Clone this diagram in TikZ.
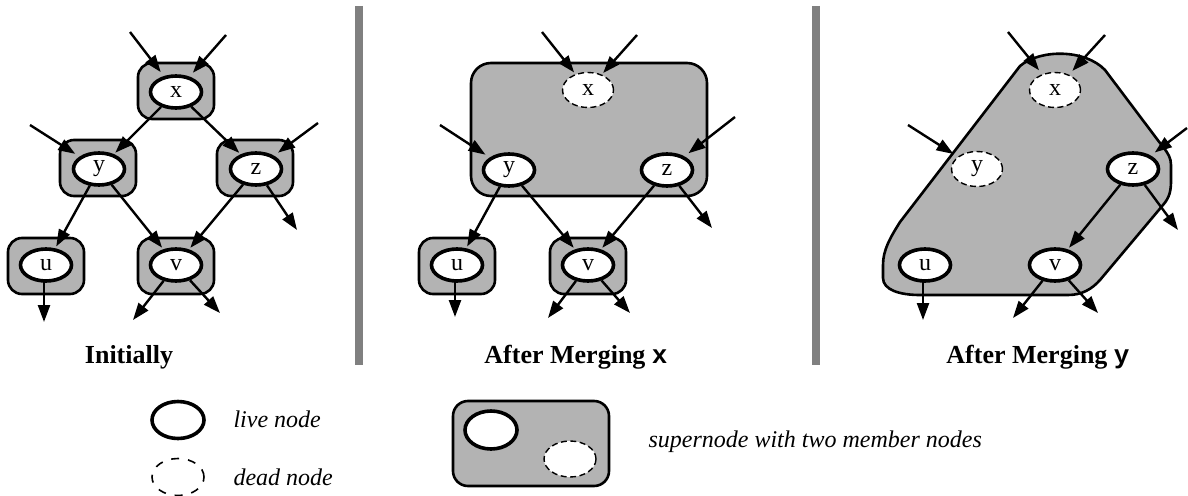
\documentclass[tikz,border=0pt]{standalone}
\usepackage{fontspec}
\setmainfont{Liberation Serif}
\setmonofont{Liberation Mono}
\usetikzlibrary{arrows.meta,shapes.geometric}
\definecolor{supgray}{HTML}{B3B3B3}
\definecolor{sepgray}{HTML}{808080}
\begin{document}
\begin{tikzpicture}[x=1pt,y=-1pt,
  live/.style={ellipse,draw,line width=3.6pt,fill=white,minimum width=51pt,minimum height=32pt,inner sep=0pt,font=\fontsize{24}{24}\selectfont},
  dead/.style={ellipse,draw,line width=1.4pt,dash pattern=on 6pt off 3.5pt,fill=white,minimum width=51pt,minimum height=35pt,inner sep=0pt,font=\fontsize{24}{24}\selectfont},
  supbox/.style={draw,line width=2.6pt,fill=supgray,rounded corners=14pt,minimum width=76pt,minimum height=56pt,inner sep=0pt},
  arr/.style={line width=2.4pt,-{Triangle[length=17pt,width=12pt]},shorten >=2pt},
  inarr/.style={arr,shorten >=5pt},
  sep/.style={draw=sepgray,line width=8pt},
  title/.style={anchor=base,font=\fontsize{26}{26}\selectfont\bfseries},
  legtext/.style={anchor=base west,font=\fontsize{24}{24}\selectfont\itshape}
]
\useasboundingbox (0,0) rectangle (1188,495);

% separators
\coordinate (s1a) at (359,6); \coordinate (s1b) at (359,365);
\coordinate (s2a) at (816,6); \coordinate (s2b) at (816,365);
\draw[sep] (s1a) -- (s1b);
\draw[sep] (s2a) -- (s2b);

% ---------- Panel 1 ----------
\node[supbox] (axb) at (176,91) {};
\node[supbox] (ayb) at (98,168) {};
\node[supbox] (azb) at (255,168) {};
\node[supbox] (aub) at (46,266) {};
\node[supbox] (avb) at (176,266) {};
\node[live] (ax) at (176,92) {x};
\node[live] (ay) at (99,169) {y};
\node[live] (az) at (256,169) {z};
\node[live] (au) at (46,265) {u};
\node[live] (av) at (176,265) {v};
\coordinate (axi1) at (130,32); \coordinate (axi2) at (226,35);
\coordinate (ayi) at (30,125); \coordinate (azi) at (318,123);
\coordinate (azo) at (297,230); \coordinate (auo) at (44,322);
\coordinate (avo1) at (133,320); \coordinate (avo2) at (220,313);
\draw[inarr] (axi1) -- (ax);
\draw[inarr] (axi2) -- (ax);
\draw[inarr] (ayi) -- (ay);
\draw[inarr] (azi) -- (az);
\draw[arr] (ax) -- (ay);
\draw[arr] (ax) -- (az);
\draw[arr] (ay) -- (au);
\draw[arr] (ay) -- (av);
\draw[arr] (az) -- (av);
\draw[arr,shorten >=0pt] (az) -- (azo);
\draw[arr,shorten >=0pt] (au.center) ++(-2,16) -- (auo);
\draw[arr,shorten >=0pt] (av) -- (avo1);
\draw[arr,shorten >=0pt] (av) -- (avo2);

% ---------- Panel 2 ----------
\node[draw,line width=2.6pt,fill=supgray,rounded corners=20pt,minimum width=236pt,minimum height=133pt,inner sep=0pt] (bsup) at (589,129.5) {};
\node[supbox] (bub) at (457,266) {};
\node[supbox] (bvb) at (588,266) {};
\node[dead] (bx) at (588,90) {x};
\node[live] (by) at (509,170) {y};
\node[live] (bz) at (667,170) {z};
\node[live] (bu) at (457,265) {u};
\node[live] (bv) at (588,265) {v};
\coordinate (bxi1) at (542,32); \coordinate (bxi2) at (637,35);
\coordinate (byi) at (440,125); \coordinate (bzi) at (735,117);
\coordinate (bzo) at (712,228); \coordinate (buo) at (455,317);
\coordinate (bvo1) at (548,318); \coordinate (bvo2) at (630,313);
\draw[inarr,shorten >=2pt] (bxi1) -- (bx);
\draw[inarr,shorten >=2pt] (bxi2) -- (bx);
\draw[inarr] (byi) -- (by);
\draw[inarr] (bzi) -- (bz);
\draw[arr] (by) -- (bu);
\draw[arr] (by) -- (bv);
\draw[arr] (bz) -- (bv);
\draw[arr,shorten >=0pt] (bz) -- (bzo);
\draw[arr,shorten >=0pt] (bu.center) ++(-2,16) -- (buo);
\draw[arr,shorten >=0pt] (bv) -- (bvo1);
\draw[arr,shorten >=0pt] (bv) -- (bvo2);

% ---------- Panel 3 ----------
\draw[line width=2.6pt,fill=supgray]
  (883,265) -- (883,278) .. controls (883,290) and (900,295) .. (920,295)
  -- (1068,295) .. controls (1082,295) and (1092,289) .. (1100,280)
  -- (1163,205) .. controls (1170,197) and (1171,190) .. (1171,180)
  -- (1171,165) .. controls (1171,158) and (1168,153) .. (1163,147)
  -- (1105,70) .. controls (1085,49) and (1040,49) .. (1020,66)
  -- (900,222) .. controls (890,238) and (883,250) .. (883,265) -- cycle;
\node[dead] (cx) at (1055,90) {x};
\node[dead] (cy) at (977,169) {y};
\node[live] (cz) at (1133,169) {z};
\node[live] (cu) at (925,265) {u};
\node[live] (cv) at (1055,265) {v};
\coordinate (cxi1) at (1008,32); \coordinate (cxi2) at (1105,35);
\coordinate (cyi) at (908,125); \coordinate (czi) at (1187,128);
\coordinate (czo) at (1178,230); \coordinate (cuo) at (923,320);
\coordinate (cvo1) at (1013,318); \coordinate (cvo2) at (1098,313);
\draw[inarr] (cxi1) -- (cx);
\draw[inarr] (cxi2) -- (cx);
\draw[inarr] (cyi) -- (cy);
\draw[inarr] (czi) -- (cz);
\draw[arr] (cz) -- (cv);
\draw[arr,shorten >=0pt] (cz) -- (czo);
\draw[arr,shorten >=0pt] (cu.center) ++(-2,16) -- (cuo);
\draw[arr,shorten >=0pt] (cv) -- (cvo1);
\draw[arr,shorten >=0pt] (cv) -- (cvo2);

% ---------- Titles ----------
\node[title] (t1) at (129,363) {Initially};
\node[title] (t2) at (576,363) {After Merging \texttt{\bfseries x}};
\node[title] (t3) at (1038,363) {After Merging \texttt{\bfseries y}};

% ---------- Legend ----------
\node[live,minimum width=52pt,minimum height=37pt] (llive) at (178,420) {};
\node[legtext] (tlive) at (230,427) {live node};
\node[dead,line width=1.6pt,dash pattern=on 8pt off 9pt,minimum width=52pt,minimum height=37pt] (ldead) at (178,477) {};
\node[legtext] (tdead) at (230,485) {dead node};
\node[draw,line width=2.6pt,fill=supgray,rounded corners=15pt,minimum width=156pt,minimum height=85pt,inner sep=0pt] (lsup) at (531,443.5) {};
\node[live,minimum width=52pt,minimum height=38pt] (lsl) at (491,430) {};
\node[dead,minimum width=52pt,minimum height=36pt] (lsd) at (570,459) {};
\node[legtext] (tsup) at (645,447) {supernode with two member nodes};
\end{tikzpicture}
\end{document}
